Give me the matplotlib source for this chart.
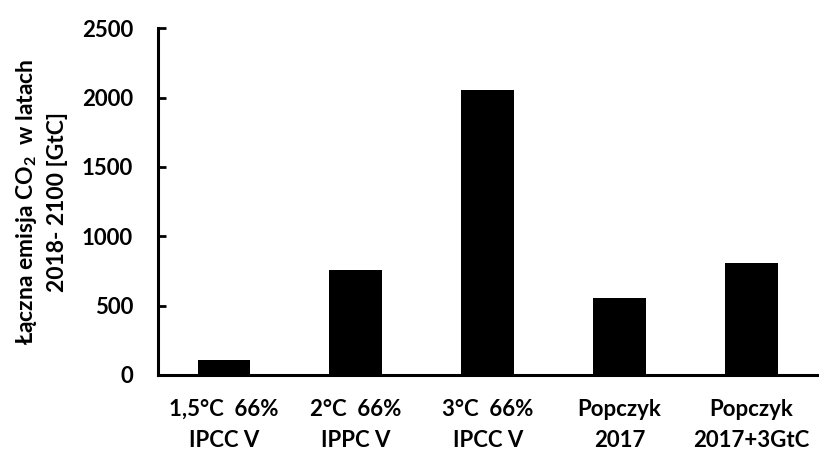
import matplotlib
matplotlib.use("Agg")
import matplotlib.pyplot as plt

plt.rcParams['font.family'] = ['Lato', 'DejaVu Sans']
plt.rcParams['font.weight'] = 'bold'
plt.rcParams['axes.labelweight'] = 'bold'
plt.rcParams['mathtext.fontset'] = 'custom'
plt.rcParams['mathtext.rm'] = 'Lato:bold'
plt.rcParams['mathtext.it'] = 'Lato:bold'
plt.rcParams['mathtext.bf'] = 'Lato:bold'

categories = ["1,5°C  66%\nIPCC V", "2°C  66%\nIPPC V", "3°C  66%\nIPCC V",
              "Popczyk\n2017", "Popczyk\n2017+3GtC"]
values = [108, 755, 2055, 555, 805]
yticks = [0, 500, 1000, 1500, 2000, 2500]
ylabel = "Łączna emisja CO$_2$  w latach\n2018- 2100 [GtC]"

fig = plt.figure(figsize=(8.19, 4.55), dpi=100)
ax = fig.add_axes([0.193, 0.176, 0.805, 0.762])

x = range(len(categories))
ax.bar(x, values, width=0.4, color='black')

ax.set_xlim(-0.5, 4.5)
ax.set_ylim(0, 2500)
ax.set_yticks(yticks)
ax.set_xticks(list(x))
ax.set_xticklabels(categories, fontsize=16, linespacing=1.6)
ax.tick_params(axis='y', direction='in', length=6, width=2, labelsize=16, pad=18)
ax.tick_params(axis='x', length=0, pad=17)

for s in ['top', 'right']:
    ax.spines[s].set_visible(False)
for s in ['left', 'bottom']:
    ax.spines[s].set_linewidth(2.2)

ax.set_ylabel(ylabel, fontsize=16.5, fontweight='bold', linespacing=1.45, labelpad=10)

fig.savefig("out.png", dpi=100)
